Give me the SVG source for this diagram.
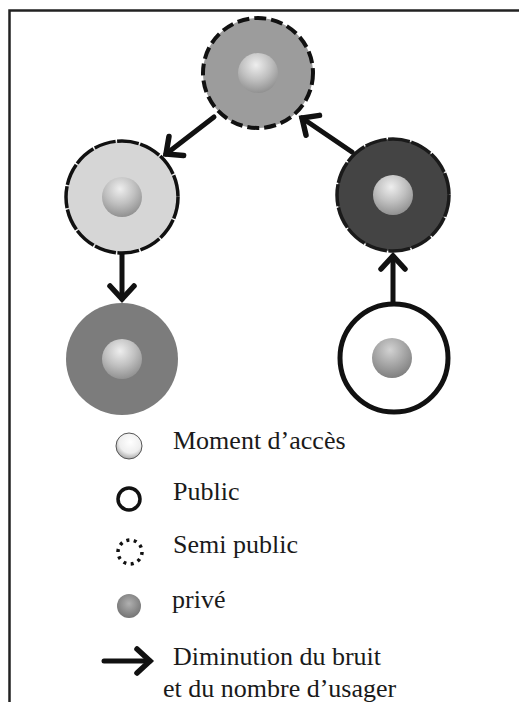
<svg xmlns="http://www.w3.org/2000/svg" width="519" height="702" viewBox="0 0 519 702">
<style>
.lbl{font-family:"Liberation Serif","Times New Roman",serif;font-size:26px;fill:#1a1a1a}
.conn{fill:none;stroke:#111;stroke-width:5;stroke-linecap:round}
</style>
<defs>
<radialGradient id="sph" cx="0.45" cy="0.3" r="0.75">
<stop offset="0" stop-color="#eeeeee"/>
<stop offset="0.5" stop-color="#c0c0c0"/>
<stop offset="1" stop-color="#8a8a8a"/>
</radialGradient>
<radialGradient id="sphDark" cx="0.45" cy="0.3" r="0.75">
<stop offset="0" stop-color="#d2d2d2"/>
<stop offset="0.5" stop-color="#a6a6a6"/>
<stop offset="1" stop-color="#7a7a7a"/>
</radialGradient>
<radialGradient id="light" cx="0.55" cy="0.35" r="0.7">
<stop offset="0" stop-color="#ffffff"/>
<stop offset="0.6" stop-color="#eeeeee"/>
<stop offset="1" stop-color="#9a9a9a"/>
</radialGradient>
<radialGradient id="priv" cx="0.5" cy="0.4" r="0.7">
<stop offset="0" stop-color="#b0b0b0"/>
<stop offset="1" stop-color="#6a6a6a"/>
</radialGradient>
<marker id="chev" markerUnits="userSpaceOnUse" markerWidth="40" markerHeight="40" viewBox="-20 -20 40 40" refX="0" refY="0" orient="auto">
<path d="M -13,-12 L 0,0 L -13,12" fill="none" stroke="#111" stroke-width="5.5" stroke-linecap="round" stroke-linejoin="miter"/>
</marker>
</defs>

<g id="frame">
<path d="M 9.5,702 L 9.5,10.5 L 519,10.5" fill="none" stroke="#222" stroke-width="2.5"/>
</g>

<g id="connectors">
<line class="conn" x1="214" y1="117" x2="166" y2="154" marker-end="url(#chev)"/>
<line class="conn" x1="352" y1="152" x2="302" y2="118" marker-end="url(#chev)"/>
<line class="conn" x1="122" y1="254" x2="122" y2="299" marker-end="url(#chev)"/>
<line class="conn" x1="393" y1="302" x2="393" y2="256" marker-end="url(#chev)"/>
</g>

<g id="node-top">
<circle cx="258" cy="73" r="55" fill="#9c9c9c" stroke="#111" stroke-width="4" stroke-dasharray="12 5"/>
<circle cx="258" cy="73" r="20" fill="url(#sph)"/>
</g>

<g id="node-left-mid">
<circle cx="122" cy="197" r="56" fill="#d6d6d6" stroke="#111" stroke-width="3.5" stroke-dasharray="22 1.5"/>
<circle cx="122" cy="197" r="20" fill="url(#sph)"/>
</g>

<g id="node-right-mid">
<circle cx="393" cy="195" r="56" fill="#444444" stroke="#1a1a1a" stroke-width="3.5" stroke-dasharray="22 1.5"/>
<circle cx="393" cy="195" r="20" fill="url(#sph)"/>
</g>

<g id="node-left-bottom">
<circle cx="122" cy="359" r="56" fill="#7c7c7c"/>
<circle cx="122" cy="359" r="20" fill="url(#sph)"/>
</g>

<g id="node-right-bottom">
<circle cx="394" cy="358" r="54" fill="#ffffff" stroke="#111" stroke-width="5"/>
<circle cx="392" cy="358" r="20" fill="url(#sphDark)"/>
</g>

<g id="legend">
<circle cx="129" cy="446" r="13" fill="url(#light)" stroke="#555" stroke-width="1"/>
<text class="lbl" x="173" y="449">Moment d’accès</text>
<circle cx="129" cy="499" r="11" fill="none" stroke="#111" stroke-width="3.5"/>
<text class="lbl" x="173" y="500">Public</text>
<circle cx="130" cy="552" r="12" fill="none" stroke="#111" stroke-width="3.5" stroke-dasharray="3 4.5"/>
<text class="lbl" x="173" y="553">Semi public</text>
<circle cx="129" cy="606" r="12" fill="url(#priv)"/>
<text class="lbl" x="172" y="608">privé</text>
<line class="conn" x1="104" y1="661" x2="150" y2="661" marker-end="url(#chev)"/>
<text class="lbl" x="173" y="665">Diminution du bruit</text>
<text class="lbl" x="163" y="697">et du nombre d’usager</text>
</g>
</svg>
